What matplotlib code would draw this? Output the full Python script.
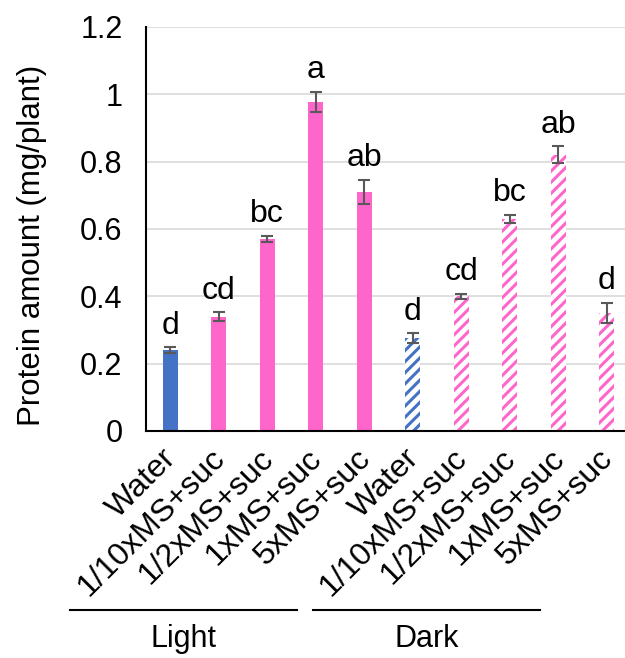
import numpy as np
import matplotlib.pyplot as plt
import matplotlib.transforms as mtransforms

plt.rcParams['font.family'] = ['Liberation Sans', 'DejaVu Sans']
plt.rcParams['hatch.linewidth'] = 2.2

labels = ['Water', '1/10xMS+suc', '1/2xMS+suc', '1xMS+suc', '5xMS+suc',
          'Water', '1/10xMS+suc', '1/2xMS+suc', '1xMS+suc', '5xMS+suc']
values = [0.24, 0.34, 0.57, 0.977, 0.71, 0.275, 0.40, 0.63, 0.82, 0.35]
errors = [0.008, 0.012, 0.01, 0.03, 0.035, 0.015, 0.008, 0.012, 0.025, 0.03]
letters = ['d', 'cd', 'bc', 'a', 'ab', 'd', 'cd', 'bc', 'ab', 'd']
groups = ['Light', 'Dark']

blue = '#4472C4'
pink = '#FF66CC'
colors = [blue, pink, pink, pink, pink, blue, pink, pink, pink, pink]

fig = plt.figure(figsize=(6.25, 6.58), dpi=100)
ax = fig.add_axes([0.2336, 0.345, 0.776, 0.614])

x = np.arange(len(values))
for i in range(len(values)):
    if i < 5:
        ax.bar(x[i], values[i], width=0.31, color=colors[i], zorder=2)
    else:
        ax.bar(x[i], values[i], width=0.31, facecolor='white', edgecolor=colors[i],
               linewidth=0, hatch='///', zorder=2)
ax.errorbar(x, values, yerr=errors, fmt='none', ecolor='#595959', elinewidth=1.5,
            capsize=4.5, capthick=1.5, zorder=3)
for i in range(len(values)):
    ax.text(x[i], values[i] + errors[i] + 0.02, letters[i], ha='center', va='bottom',
            fontsize=23)

ax.set_xlim(-0.5, len(values) - 0.5)
ax.set_ylim(0, 1.2)
ax.set_yticks(np.arange(0, 1.21, 0.2))
ax.set_yticklabels(['0', '0.2', '0.4', '0.6', '0.8', '1', '1.2'], fontsize=22)
ax.set_xticks(x)
ax.set_xticklabels(labels, rotation=45, ha='right', rotation_mode='anchor', fontsize=23)
ax.tick_params(axis='y', length=0, pad=17)
ax.tick_params(axis='x', length=0, pad=9)
# nudge rotated labels so they end at the bar centre
shift = mtransforms.ScaledTranslation(-0.09, 0, fig.dpi_scale_trans)
for lab in ax.get_xticklabels():
    lab.set_transform(lab.get_transform() + shift)
ax.yaxis.grid(True, color='#d9d9d9', lw=1.2, zorder=0)
ax.set_axisbelow(True)
for s in ['top', 'right']:
    ax.spines[s].set_visible(False)
ax.spines['left'].set_linewidth(1.5)
ax.spines['bottom'].set_linewidth(1.5)
ax.set_ylabel('Protein amount (mg/plant)', fontsize=22.5)
ax.yaxis.set_label_coords(-0.205, 0.46)

trans = mtransforms.blended_transform_factory(ax.transData, ax.transAxes)
spans = [(-2.06, 2.62), (2.95, 7.63)]
for (a, b), g in zip(spans, groups):
    ax.plot([a, b], [-0.443, -0.443], color='black', lw=1.5, transform=trans, clip_on=False)
    ax.text((a + b) / 2, -0.515, g, ha='center', va='center', fontsize=22, transform=trans)

fig.savefig('out.png', dpi=100)
